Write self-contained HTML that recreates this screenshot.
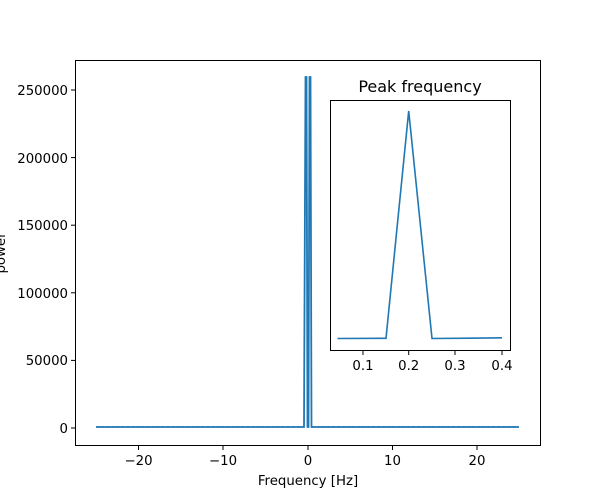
<!DOCTYPE html>
<html><head><style>body{margin:0;background:#fff}svg{display:block}text{font-family:"DejaVu Sans","Liberation Sans",sans-serif;fill:#000}</style></head><body>
<svg width="600" height="500" viewBox="0 0 600 500" xmlns="http://www.w3.org/2000/svg">
<rect width="600" height="500" fill="#fff"/>
<g stroke="#1f77b4" stroke-width="1.8" fill="none">
<polyline points="96,427 304,427 305.5,77 306.5,77 307.5,427 308.5,427 309.5,77 310.5,77 311.5,427 519,427"/>
<polyline stroke-width="1" stroke-opacity="0.6" stroke-dasharray="2,3" points="97,426.5 303,426.5"/>
<polyline stroke-width="1" stroke-opacity="0.6" stroke-dasharray="3,2" points="312,426.5 518,426.5"/>
</g>
<rect x="75.5" y="60.5" width="465" height="385" fill="none" stroke="#000" stroke-width="1"/>
<g stroke="#000" stroke-width="1">
<line x1="71" y1="428" x2="75" y2="428"/><line x1="71" y1="360.4" x2="75" y2="360.4"/><line x1="71" y1="292.8" x2="75" y2="292.8"/><line x1="71" y1="225.2" x2="75" y2="225.2"/><line x1="71" y1="157.6" x2="75" y2="157.6"/><line x1="71" y1="90" x2="75" y2="90"/>
<line x1="138.5" y1="446" x2="138.5" y2="450"/><line x1="223" y1="446" x2="223" y2="450"/><line x1="308" y1="446" x2="308" y2="450"/><line x1="392.5" y1="446" x2="392.5" y2="450"/><line x1="477" y1="446" x2="477" y2="450"/>
</g>
<g font-size="13.3" text-anchor="end">
<text x="68" y="433">0</text><text x="68" y="365">50000</text><text x="68" y="298">100000</text><text x="68" y="230">150000</text><text x="68" y="163">200000</text><text x="68" y="95">250000</text>
</g>
<g font-size="13.3" text-anchor="middle">
<text x="138.5" y="465">−20</text><text x="223" y="465">−10</text><text x="308" y="465">0</text><text x="392.5" y="465">10</text><text x="477" y="465">20</text>
<text x="308" y="485">Frequency [Hz]</text>
<text transform="translate(5,253) rotate(-90)">power</text>
</g>
<rect x="330.5" y="100.5" width="180" height="250" fill="#fff" stroke="#000" stroke-width="1"/>
<polyline fill="none" stroke="#1f77b4" stroke-width="1.6" points="337.5,338.5 386,338.3 408.7,111 432,338.5 470,338.2 502,337.8"/>
<g stroke="#000" stroke-width="1">
<line x1="363" y1="351" x2="363" y2="355"/><line x1="408.7" y1="351" x2="408.7" y2="355"/><line x1="455" y1="351" x2="455" y2="355"/><line x1="502" y1="351" x2="502" y2="355"/>
</g>
<g font-size="13.3" text-anchor="middle">
<text x="363" y="370">0.1</text><text x="408.7" y="370">0.2</text><text x="455" y="370">0.3</text><text x="502" y="370">0.4</text>
<text x="420" y="92" font-size="16">Peak frequency</text>
</g>
</svg>
</body></html>
